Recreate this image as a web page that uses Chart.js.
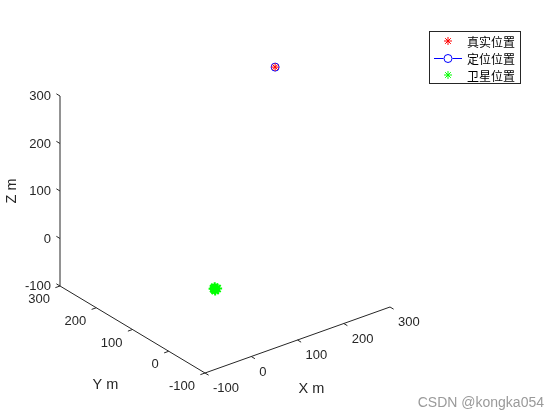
<!DOCTYPE html>
<html lang="zh">
<head>
<meta charset="UTF-8">
<title>定位结果</title>
<script src="https://cdn.jsdelivr.net/npm/chart.js@4.4.1"></script>
<style>
  html,body{margin:0;padding:0;background:#fff;}
  #wrap{width:560px;height:420px;}
</style>
</head>
<body>
<div id="wrap"><canvas id="c" width="560" height="420"></canvas></div>
<script>
// ---- data (metres) ----
const xTicks = [-100, 0, 100, 200, 300];
const yTicks = [-100, 0, 100, 200, 300];
const zTicks = [-100, 0, 100, 200, 300];
const truePos = [[257, 162, 300]];
const estPos  = [[257, 162, 300]];
const satPos  = [[0, 0, -4], [-3, 0, -2], [2, 3, -6], [-2, -3, -5], [1, 2, -1], [3, -2, -3]];
const legendLabels = ['真实位置', '定位位置', '卫星位置'];
const axisTitles = {x: 'X m', y: 'Y m', z: 'Z m'};

// ---- simple 3D view: screen shift (px) per metre along each axis ----
const VX = [0.4625, 0.165], VY = [-0.3625, 0.2175], VZ = [0, 0.475];
const LO = -100, HI = 300;
function proj(p){
  const a=p[0]-LO,b=p[1]-LO,c=p[2]-LO;
  return {x:a*VX[0]+b*VY[0]+c*VZ[0], y:a*VX[1]+b*VY[1]+c*VZ[1]};
}
function seg(p,q){return [proj(p),proj(q)]}
const ink='#262626';
function lineSet(pts){return {data:pts,showLine:true,borderColor:ink,borderWidth:1,pointRadius:0,fill:false}}

const lines=[
  lineSet(seg([LO,LO,LO],[HI,LO,LO])),
  lineSet(seg([LO,LO,LO],[LO,HI,LO])),
  lineSet(seg([LO,HI,LO],[LO,HI,HI]))
];
const TL=10;
xTicks.forEach(v=>lines.push(lineSet(seg([v,LO,LO],[v,LO-TL,LO]))));
yTicks.forEach(v=>lines.push(lineSet(seg([LO,v,LO],[LO-TL,v,LO]))));
zTicks.forEach(v=>lines.push(lineSet(seg([LO,HI,v],[LO,HI+TL,v]))));

const labelPlugin={
  id:'labels3d',
  afterDatasetsDraw(chart){
    const ctx=chart.ctx,sx=chart.scales.x,sy=chart.scales.y;
    const px=p=>{const q=proj(p);return [sx.getPixelForValue(q.x),sy.getPixelForValue(q.y)]};
    ctx.save();
    ctx.fillStyle=ink;
    ctx.font='13px "Liberation Sans", Arial, sans-serif';
    ctx.textBaseline='middle';
    ctx.textAlign='left';
    xTicks.forEach(v=>{const [a,b]=px([v,LO,LO]);ctx.fillText(String(v),a+8,b+15.5)});
    ctx.textAlign='right';
    yTicks.forEach(v=>{const [a,b]=px([LO,v,LO]);ctx.fillText(String(v),a-10,b+13.5)});
    zTicks.forEach(v=>{const [a,b]=px([LO,HI,v]);ctx.fillText(String(v),a-9,b+0.5)});
    // axis titles
    ctx.font='14.5px "Liberation Sans", Arial, sans-serif';
    ctx.textAlign='center';
    let [a,b]=px([100,LO,LO]);ctx.fillText(axisTitles.x,a+14,b+49);
    [a,b]=px([LO,100,LO]);ctx.fillText(axisTitles.y,a-27,b+55.5);
    [a,b]=px([LO,HI,100]);
    ctx.save();ctx.translate(a-48,b);ctx.rotate(-Math.PI/2);ctx.fillText(axisTitles.z,0,0);ctx.restore();
    // legend
    const L=429,T=31,W=91,H=52;
    ctx.fillStyle='#fff';ctx.fillRect(L,T,W,H);
    ctx.strokeStyle=ink;ctx.lineWidth=1;ctx.strokeRect(L+0.5,T+0.5,W,H);
    const rows=[41,58,75];
    ctx.font='12px "Noto Sans CJK SC", sans-serif';
    ctx.textAlign='left';
    chart.data.datasets.slice(0,3).forEach((ds,i)=>{
      const y=rows[i],cx=448;
      ctx.strokeStyle=ds.borderColor;ctx.lineWidth=1;
      if(ds.pointStyle==='circle'){
        ctx.beginPath();ctx.moveTo(434,y+0.5);ctx.lineTo(443.5,y+0.5);ctx.moveTo(452.5,y+0.5);ctx.lineTo(462,y+0.5);ctx.stroke();
        ctx.beginPath();ctx.arc(cx,y+0.5,4,0,Math.PI*2);ctx.stroke();
      }else{
        Chart.helpers.drawPoint(ctx,{pointStyle:'star',radius:4,borderWidth:1},cx,y);
      }
      ctx.fillStyle='#000';ctx.fillText(legendLabels[i],467,y+1);
    });
    // watermark
    ctx.font='14px "Liberation Sans", Arial, sans-serif';
    ctx.fillStyle='#9a9a9a';ctx.textAlign='right';
    ctx.fillText('CSDN @kongka054',544,403);
    ctx.restore();
  }
};

new Chart(document.getElementById('c'),{
  type:'scatter',
  data:{datasets:[
    {label:legendLabels[0],data:truePos.map(proj),pointStyle:'star',pointRadius:4,borderColor:'#ff0000',borderWidth:1},
    {label:legendLabels[1],data:estPos.map(proj),pointStyle:'circle',pointRadius:4,borderColor:'#0000ff',backgroundColor:'rgba(0,0,0,0)',borderWidth:1},
    {label:legendLabels[2],data:satPos.map(proj),pointStyle:'star',pointRadius:5,borderColor:'#00ff00',borderWidth:2},
    ...lines
  ]},
  options:{
    responsive:false,animation:false,devicePixelRatio:1,
    layout:{padding:0,autoPadding:false},
    events:[],
    scales:{
      x:{type:'linear',min:-205,max:355,display:false},
      y:{type:'linear',min:-47,max:373,display:false}
    },
    plugins:{legend:{display:false},tooltip:{enabled:false}}
  },
  plugins:[labelPlugin]
});
</script>
</body>
</html>
